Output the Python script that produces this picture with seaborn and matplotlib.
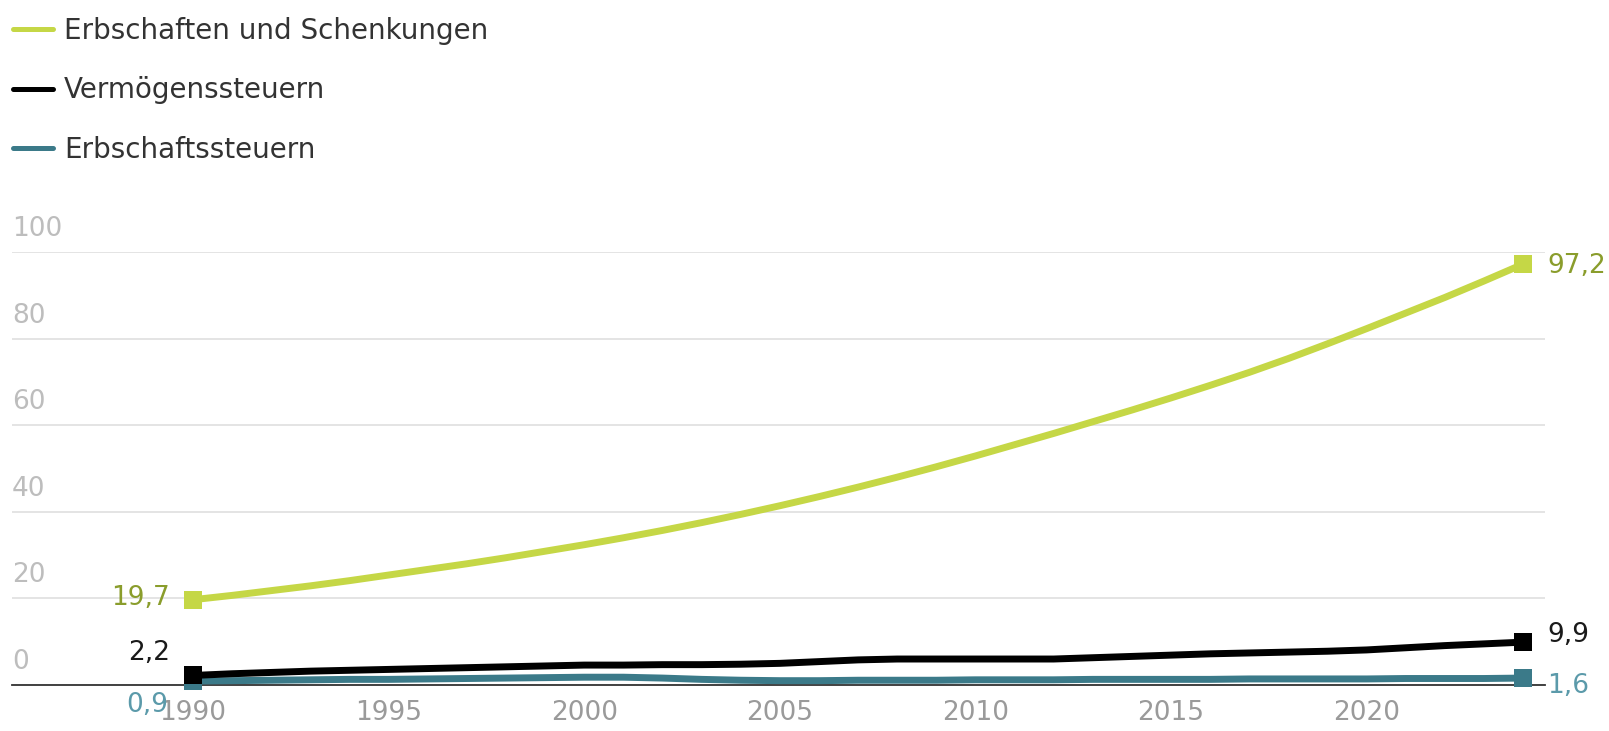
import matplotlib
matplotlib.use("Agg")
import matplotlib.pyplot as plt
import matplotlib.transforms as mtransforms
from matplotlib.lines import Line2D
import numpy as np
import pandas as pd
import seaborn as sns

# ---- data -------------------------------------------------------------
years = list(range(1990, 2025))

erbschaften_schenkungen = [
    19.7, 20.7, 21.8, 22.9, 24.1, 25.4, 26.7, 28.0, 29.4, 30.9,
    32.4, 34.0, 35.7, 37.5, 39.4, 41.4, 43.5, 45.7, 48.0, 50.4,
    52.9, 55.5, 58.1, 60.8, 63.5, 66.3, 69.2, 72.2, 75.4, 78.8,
    82.3, 85.9, 89.5, 93.3, 97.2,
]
vermoegenssteuern = [
    2.2, 2.6, 2.9, 3.2, 3.4, 3.6, 3.8, 4.0, 4.2, 4.4,
    4.6, 4.6, 4.7, 4.7, 4.8, 5.0, 5.4, 5.8, 6.0, 6.0,
    6.0, 6.0, 6.0, 6.3, 6.6, 6.9, 7.2, 7.4, 7.6, 7.8,
    8.1, 8.6, 9.1, 9.5, 9.9,
]
erbschaftssteuern = [
    0.9, 1.0, 1.1, 1.2, 1.3, 1.3, 1.4, 1.5, 1.6, 1.7,
    1.8, 1.8, 1.6, 1.3, 1.1, 1.0, 1.0, 1.1, 1.1, 1.1,
    1.2, 1.2, 1.2, 1.3, 1.3, 1.3, 1.3, 1.4, 1.4, 1.4,
    1.4, 1.5, 1.5, 1.5, 1.6,
]

series_names = ["Erbschaften und Schenkungen", "Vermögenssteuern", "Erbschaftssteuern"]
series_values = [erbschaften_schenkungen, vermoegenssteuern, erbschaftssteuern]

y_ticks = [0, 20, 40, 60, 80, 100]
x_ticks = [1990, 1995, 2000, 2005, 2010, 2015, 2020]

# ---- styling ----------------------------------------------------------
line_colors = {
    "Erbschaften und Schenkungen": "#c5d746",
    "Vermögenssteuern": "#000000",
    "Erbschaftssteuern": "#3b7a89",
}
label_colors = {
    "Erbschaften und Schenkungen": "#8a9d2c",
    "Vermögenssteuern": "#1a1a1a",
    "Erbschaftssteuern": "#5b9aaa",
}

sns.set_theme(style="white")
plt.rcParams["font.family"] = ["DejaVu Sans"]

df = pd.concat(
    [pd.DataFrame({"Jahr": years, "Wert": vals, "Reihe": name})
     for name, vals in zip(series_names, series_values)],
    ignore_index=True,
)

W, H, DPI = 1609, 731, 100
fig = plt.figure(figsize=(W / DPI, H / DPI), dpi=DPI)

ax_left, ax_right = 12, 1545
ax_top, ax_bottom = 252, 685
ax = fig.add_axes([ax_left / W, (H - ax_bottom) / H,
                   (ax_right - ax_left) / W, (ax_bottom - ax_top) / H])

# draw order: green, teal, black on top
draw_order = ["Erbschaften und Schenkungen", "Erbschaftssteuern", "Vermögenssteuern"]
for name in draw_order:
    sub = df[df["Reihe"] == name]
    sns.lineplot(data=sub, x="Jahr", y="Wert", ax=ax, color=line_colors[name],
                 linewidth=5, marker="s", markersize=12.5, markeredgewidth=0,
                 markevery=[0, len(sub) - 1], legend=False, clip_on=False,
                 solid_capstyle="butt", solid_joinstyle="round", zorder=3)

ax.set_xlim(1985.37, 2024.56)
ax.set_ylim(0, 100)

# gridlines & baseline
ax.set_yticks(y_ticks)
ax.yaxis.grid(True, color="#e4e4e4", linewidth=1.4)
ax.set_axisbelow(True)
for s in ["top", "right", "left"]:
    ax.spines[s].set_visible(False)
ax.spines["bottom"].set_color("#333333")
ax.spines["bottom"].set_linewidth(1.3)
ax.spines["bottom"].set_zorder(2)

ax.tick_params(axis="y", length=0, labelleft=False)
ax.set_xticks(x_ticks)
ax.set_xticklabels([str(t) for t in x_ticks])
ax.tick_params(axis="x", length=0, pad=10.5, labelsize=19, labelcolor="#9a9a9a")
ax.set_xlabel("")
ax.set_ylabel("")

# y labels sit above their gridline at the left edge
ytrans = mtransforms.blended_transform_factory(ax.transAxes, ax.transData)
for t in y_ticks:
    ax.annotate(str(t), xy=(0, t), xycoords=ytrans, xytext=(0, 16),
                textcoords="offset pixels", ha="left", va="baseline",
                fontsize=19, color="#bdbdbd")

# value labels at the start and end of each series
def fmt(v):
    return f"{v:.1f}".replace(".", ",")

start_offsets = {
    "Erbschaften und Schenkungen": (-23, 2),
    "Vermögenssteuern": (-23, 22),
    "Erbschaftssteuern": (-25, -24),
}
end_offsets = {
    "Erbschaften und Schenkungen": (24, -2),
    "Vermögenssteuern": (24, 7),
    "Erbschaftssteuern": (24, -8),
}
for name, vals in zip(series_names, series_values):
    ax.annotate(fmt(vals[0]), xy=(years[0], vals[0]), xytext=start_offsets[name],
                textcoords="offset pixels", ha="right", va="center",
                fontsize=19, color=label_colors[name], annotation_clip=False)
    ax.annotate(fmt(vals[-1]), xy=(years[-1], vals[-1]), xytext=end_offsets[name],
                textcoords="offset pixels", ha="left", va="center",
                fontsize=19, color=label_colors[name], annotation_clip=False)

# legend
handles = [Line2D([0], [0], color=line_colors[n], linewidth=3.6,
                  solid_capstyle="round") for n in series_names]
fig.legend(handles, series_names, loc="upper left",
           bbox_to_anchor=(13 / W, 1 - 17 / H), frameon=False,
           fontsize=20, labelcolor="#333333", handlelength=1.45,
           handletextpad=0.38, labelspacing=1.13, borderpad=0,
           borderaxespad=0)

fig.savefig("out.png", dpi=DPI, facecolor="white")
